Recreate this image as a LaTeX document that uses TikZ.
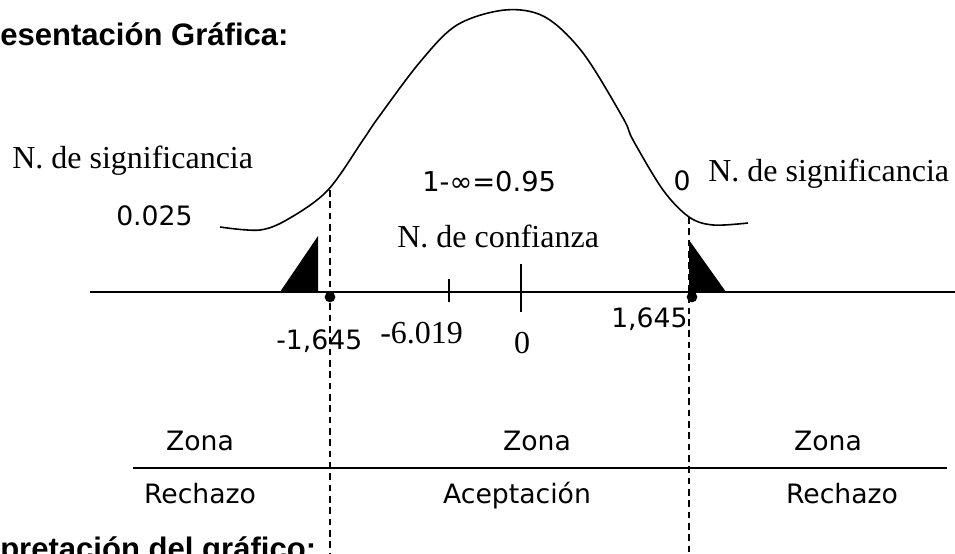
\documentclass[tikz,border=0pt]{standalone}
\usepackage{fontspec}
\setmainfont{Liberation Serif}
\newfontfamily\verd{DejaVu Sans}
\newfontfamily\arial{Liberation Sans}
\tikzset{
  serif/.style={font=\fontsize{24}{28}\selectfont, inner sep=0pt},
  sans/.style={font=\verd\fontsize{20}{23}\selectfont, inner sep=0pt},
  titolo/.style={font=\arial\bfseries\fontsize{23.3}{27}\selectfont, inner sep=0pt},
  zona/.style={sans, anchor=base},
  confine/.style={line width=1pt, dash pattern=on 5pt off 3.5pt},
}
\begin{document}
\begin{tikzpicture}[x=0.75pt, y=-0.75pt]
        \useasboundingbox (0,0) rectangle (955,553);
        \clip (0,0) rectangle (955,553);

        % Titoli
        \node[titolo, anchor=base west] (tit) at (0,45) {esentación Gráfica:};
        \node[titolo, anchor=base west] (interp) at (0,559) {pretación del gráfico:};

        % Asse e curva
        \draw[line width=1.5pt] (90,292) -- (955,292);
        \draw[line width=1.2pt] plot[smooth, tension=0.55] coordinates {
          (220,227) (260,230) (290,218) (328,190) (363,140) (378,118) (420,62)
          (457,25) (505,10) (545,17) (583,53) (623,118) (633,140) (663,190)
          (689,217) (713,225) (748,223)};

        % Code nere
        \fill (280,292) -- (318,236) -- (318,292) -- cycle;
        \fill (689,240) -- (726,292) -- (689,292) -- cycle;

        % Linee di confine
        \draw[confine] (330,190) -- (330,553);
        \draw[confine] (689,217) -- (689,553);
        \fill (330,297) circle (4pt);
        \fill (692,297) circle (4pt);

        % Tacche
        \draw[line width=1.1pt] (449,279) -- (449,302);
        \draw[line width=1.1pt] (521,264) -- (521,312);

        % Etichette
        \node[serif, anchor=base west] (sigsx) at (12,168) {N. de significancia};
        \node[serif, anchor=base west] (sigdx) at (708,181) {N. de significancia};
        \node[sans, anchor=base west] (alfa) at (116,225) {0.025};
        \node[sans, anchor=base west, font=\verd\fontsize{20.5}{23}\selectfont] (conf) at (422,191) {1-∞=0.95};
        \node[serif, anchor=base west] (nconf) at (397,247) {N. de confianza};
        \node[sans, anchor=base] (zerodx) at (682,190) {0};
        \node[sans, anchor=base west] (zsx) at (276,349) {-1,645};
        \node[serif, anchor=base west] (media) at (380,343) {-6.019};
        \node[serif, anchor=base] (zero) at (522,353) {0};
        \node[sans, anchor=base west] (zdx) at (611,327) {1,645};

        % Zone
        \draw[line width=1.3pt] (133,468) -- (947,468);
        \node[zona] (z1) at (200,450) {Zona};
        \node[zona] (z2) at (537,450) {Zona};
        \node[zona] (z3) at (828,450) {Zona};
        \node[zona] (r1) at (200,503) {Rechazo};
        \node[zona] (a2) at (517,503) {Aceptación};
        \node[zona] (r3) at (842,503) {Rechazo};
\end{tikzpicture}
\end{document}
